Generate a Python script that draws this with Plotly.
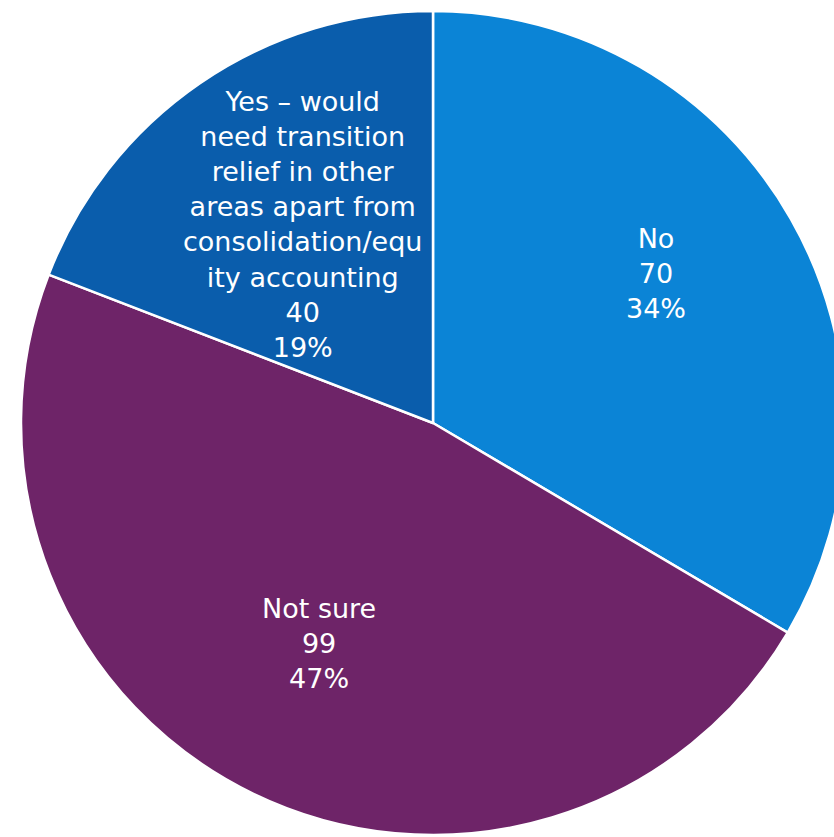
import math
import plotly.graph_objects as go

labels = ["No", "Not sure",
          "Yes – would<br>need transition<br>relief in other<br>areas apart from<br>consolidation/equ<br>ity accounting"]
values = [70, 99, 40]
percent_labels = ["34%", "47%", "19%"]
colors = ["#0b84d6", "#6e2468", "#0a5dac"]
label_radius = [0.65, 0.62, 0.575]      # fraction of pie radius where each label sits
label_nudge_px = [(-10, -17), (-3, -9), (4, -3)]  # fine pixel nudges (x right, y down)

fig = go.Figure(go.Pie(
    labels=labels,
    values=values,
    sort=False,
    direction="clockwise",
    rotation=0,
    marker=dict(colors=colors, line=dict(color="white", width=2.5)),
    textinfo="none",
    hoverinfo="none",
    showlegend=False,
    domain=dict(x=[0, 1], y=[0, 1]),
))

W, H = 866, 846
ml, mr, mt, mb = 21, 21, 11, 11
pw, ph = W - ml - mr, H - mt - mb
R = min(pw, ph) / 2

total = sum(values)
cum = 0
for lab, v, pct, rf, (nx, ny) in zip(labels, values, percent_labels, label_radius, label_nudge_px):
    mid = (cum + v / 2) / total * 2 * math.pi
    cum += v
    dx = rf * R * math.sin(mid) + nx
    dy = rf * R * math.cos(mid) - ny
    fig.add_annotation(
        x=0.5 + dx / pw, y=0.5 + dy / ph, xref="paper", yref="paper",
        text=f"{lab}<br>{v}<br>{pct}", showarrow=False,
        xanchor="center", yanchor="middle", align="center",
        font=dict(family="DejaVu Sans, sans-serif", size=27, color="white"),
    )

fig.update_layout(
    width=W, height=H,
    margin=dict(l=ml, r=mr, t=mt, b=mb),
    paper_bgcolor="white",
    plot_bgcolor="white",
)

fig.write_html("out.html", post_script="document.body.style.margin='0';document.body.style.overflow='hidden';document.documentElement.style.overflow='hidden';")
